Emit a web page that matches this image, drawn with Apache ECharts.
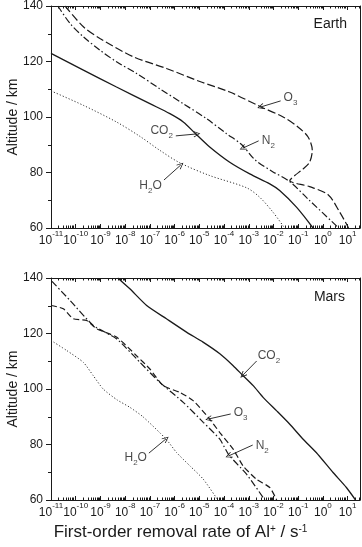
<!DOCTYPE html>
<html>
<head>
<meta charset="utf-8">
<script src="https://cdn.jsdelivr.net/npm/echarts@6/dist/echarts.min.js"></script>
<style>
  html, body { margin: 0; padding: 0; background: #fff; }
  #chart { width: 362px; height: 547px; }
</style>
</head>
<body>
<div id="chart"></div>
<script>
// x values are log10 of the removal rate (s^-1), y values are altitude (km)
const rateDecades = [-11, -10, -9, -8, -7, -6, -5, -4, -3, -2, -1, 0, 1];
const rateMin = -11, rateMax = 1.5;
const altMin = 60, altMax = 140;

// Earth
const earthCO2 = [[-11, 122.9], [-9.69, 116.9], [-8.35, 110.8], [-7.0, 104.8], [-6.19, 101.2], [-5.65, 98.2],
  [-5.11, 93.6], [-4.58, 89.2], [-3.77, 83.7], [-2.96, 79.5], [-2.15, 75.9], [-1.75, 73.5], [-1.07, 67.5], [-0.40, 60]];
const earthN2 = [[-10.72, 140], [-10.23, 133.7], [-9.69, 128.9], [-9.02, 124.1], [-8.35, 119.9], [-7.54, 115.7],
  [-6.60, 110.2], [-5.65, 104.8], [-4.71, 99.4], [-3.90, 94.0], [-3.28, 90.0], [-2.75, 84.6], [-2.05, 80.4],
  [-1.34, 76.7], [-0.54, 69.9], [0.64, 60]];
const earthO3 = [[-10.43, 140], [-9.69, 132.5], [-9.02, 128.3], [-7.67, 121.7], [-6.33, 117.5], [-4.98, 112.8],
  [-3.77, 109.0], [-2.52, 103.7], [-1.61, 100.0], [-1.01, 96.4], [-0.60, 92.8], [-0.43, 88.0], [-0.54, 83.7],
  [-0.80, 81.3], [-1.14, 78.9], [-1.34, 77.1], [-0.54, 74.9], [0.21, 72.0], [0.68, 65.7], [1.04, 60]];
const earthH2O = [[-11, 109.4], [-9.69, 104.2], [-8.35, 98.2], [-7.40, 93.0], [-6.60, 88.0], [-5.79, 83.5],
  [-4.58, 78.9], [-3.09, 74.5], [-2.56, 71.1], [-2.02, 65.7], [-1.55, 60]];

// Mars
const marsCO2 = [[-8.30, 140], [-7.81, 136.1], [-7.13, 130.1], [-6.33, 125.3], [-5.52, 120.5], [-4.85, 116.9],
  [-4.17, 112.7], [-3.63, 108.4], [-3.23, 104.8], [-2.82, 101.2], [-2.42, 97.0], [-1.88, 92.2], [-1.34, 87.3],
  [-0.80, 81.9], [-0.27, 77.1], [0.41, 69.9], [0.95, 64.5], [1.32, 60]];
const marsN2 = [[-10.96, 138.8], [-10.23, 131.9], [-9.29, 122.9], [-8.35, 118.1], [-7.40, 109.6], [-6.60, 102.4],
  [-5.65, 95.2], [-4.84, 88.0], [-4.17, 81.9], [-3.81, 76.3], [-3.09, 69.3], [-2.35, 60]];
const marsO3 = [[-11, 130.1], [-10.50, 128.9], [-10.10, 125.3], [-9.56, 124.7], [-9.15, 121.7], [-8.35, 118.7],
  [-7.54, 112.0], [-7.0, 107.2], [-6.46, 101.2], [-5.79, 98.8], [-5.25, 95.8], [-4.64, 89.8], [-4.17, 84.3],
  [-3.63, 78.3], [-3.23, 72.3], [-2.69, 67.5], [-2.15, 64.5], [-1.87, 60]];
const marsH2O = [[-11, 117.5], [-10.37, 113.9], [-9.69, 109.6], [-9.29, 104.8], [-8.89, 100.0], [-8.33, 96.1],
  [-7.81, 93.4], [-7.28, 90.0], [-6.35, 82.0], [-5.92, 77.1], [-5.38, 72.3], [-4.84, 67.5], [-4.25, 60]];

// species labels and their arrows, in data coordinates
const earthNotes = [
  { text: 'O{sub|3}', at: [-1.59, 106.8], align: 'left', from: [-1.71, 105.8], to: [-2.52, 103.6] },
  { text: 'CO{sub|2}', at: [-6.07, 95.0], align: 'right', from: [-5.95, 93.2], to: [-5.10, 93.9] },
  { text: 'N{sub|2}', at: [-2.47, 91.5], align: 'left', from: [-2.60, 91.4], to: [-3.24, 88.8] },
  { text: 'H{sub|2}O', at: [-6.52, 75.2], align: 'right', from: [-6.43, 77.3], to: [-5.75, 82.7] }
];
const marsNotes = [
  { text: 'CO{sub|2}', at: [-2.64, 111.9], align: 'left', from: [-2.68, 110.1], to: [-3.24, 105.0] },
  { text: 'O{sub|3}', at: [-3.61, 91.4], align: 'left', from: [-3.73, 91.0], to: [-4.62, 89.2] },
  { text: 'N{sub|2}', at: [-2.72, 79.5], align: 'left', from: [-2.84, 79.8], to: [-3.81, 75.9] },
  { text: 'H{sub|2}O', at: [-7.12, 75.1], align: 'right', from: [-7.04, 76.9], to: [-6.35, 82.0] }
];

const ink = '#1a1a1a';
const font = 'Liberation Sans';

// log-spaced minor tick positions (2..9 x 10^n)
const minorRatePos = [];
rateDecades.forEach(function (d) {
  for (let k = 2; k <= 9; k++) {
    const v = d + Math.log10(k);
    if (v < rateMax) minorRatePos.push([v, altMin]);
  }
});

const supRich = {
  b: { fontSize: 12, lineHeight: 17, verticalAlign: 'bottom', color: ink, fontFamily: font },
  s: { fontSize: 8, lineHeight: 8, verticalAlign: 'top', color: ink, fontFamily: font }
};
const subRich = {
  sub: { fontSize: 8, lineHeight: 8, verticalAlign: 'bottom', color: ink, fontFamily: font, padding: [0, 0, -3, 0] }
};

function bottomAxis(gi, named) {
  return {
    type: 'value', gridIndex: gi, min: rateMin, max: rateMax, interval: 1,
    axisLine: { onZero: false, lineStyle: { color: ink, width: 1 } },
    axisTick: { inside: true, length: 4, lineStyle: { color: ink } },
    splitLine: { show: false },
    axisLabel: {
      margin: 2,
      formatter: function (v) { return rateDecades.indexOf(v) >= 0 ? '{b|10}{s|' + v + '}' : ''; },
      rich: supRich
    },
    name: named ? 'First-order removal rate of Al{s|+} / s{s|-1}' : '',
    nameLocation: 'middle', nameGap: 24, nameMoveOverlap: false,
    nameTextStyle: {
      fontSize: 17, color: ink, fontFamily: font, padding: [0, 50, 0, 0],
      rich: {
        s: { fontSize: 10, lineHeight: 10, verticalAlign: 'top', color: ink, fontFamily: font }
      }
    }
  };
}
function topAxis(gi) {
  return {
    type: 'value', gridIndex: gi, position: 'top', min: rateMin, max: rateMax, interval: 1,
    axisLine: { onZero: false, lineStyle: { color: ink, width: 1 } },
    axisTick: { inside: true, length: 4, lineStyle: { color: ink } },
    axisLabel: { show: false }, splitLine: { show: false }
  };
}
function leftAxis(gi) {
  return {
    type: 'value', gridIndex: gi, min: altMin, max: altMax, interval: 20,
    axisLine: { show: true, onZero: false, lineStyle: { color: ink, width: 1 } },
    axisTick: { show: true, length: 5, lineStyle: { color: ink } },
    minorTick: { show: true, splitNumber: 2, length: 3, lineStyle: { color: ink } },
    splitLine: { show: false },
    axisLabel: { fontSize: 12, color: ink, margin: 8, fontFamily: font },
    name: 'Altitude / km', nameLocation: 'middle', nameGap: 31, nameMoveOverlap: false,
    nameTextStyle: { fontSize: 14, color: ink, fontFamily: font }
  };
}
function rightAxis(gi) {
  return {
    type: 'value', gridIndex: gi, position: 'right', min: altMin, max: altMax,
    axisLine: { show: true, onZero: false, lineStyle: { color: ink, width: 1 } },
    axisTick: { show: false }, axisLabel: { show: false }, splitLine: { show: false }
  };
}

function curve(data, xi, yi, dash, width, color, smooth) {
  return {
    type: 'line', xAxisIndex: xi, yAxisIndex: yi, data: data,
    showSymbol: false, symbol: 'none', smooth: smooth, silent: true,
    lineStyle: { color: color || ink, width: width, type: dash }
  };
}

function minorTicks(xi, yi) {
  return {
    type: 'custom', xAxisIndex: xi, yAxisIndex: yi, silent: true, data: minorRatePos,
    renderItem: function (params, api) {
      const v = api.value(0);
      const b = api.coord([v, altMin]);
      const t = api.coord([v, altMax]);
      const x = Math.round(b[0]) + 0.5;
      return {
        type: 'group',
        children: [
          { type: 'line', shape: { x1: x, y1: b[1], x2: x, y2: b[1] - 2.5 }, style: { stroke: ink, lineWidth: 1 } },
          { type: 'line', shape: { x1: x, y1: t[1], x2: x, y2: t[1] + 2.5 }, style: { stroke: ink, lineWidth: 1 } }
        ]
      };
    }
  };
}

const chevron = 'path://M5,0 L10,10 L9,11 L5,2.5 L1,11 L0,10 Z';

function notes(list, xi, yi) {
  return {
    type: 'scatter', xAxisIndex: xi, yAxisIndex: yi, symbolSize: 0, silent: true,
    data: list.map(function (n) {
      return {
        value: n.at,
        label: {
          show: true, position: 'inside', formatter: n.text, align: n.align,
          fontSize: 12, color: ink, fontFamily: font, rich: subRich
        }
      };
    }),
    markLine: {
      silent: true, animation: false,
      symbol: ['none', chevron], symbolSize: [6, 7],
      lineStyle: { type: 'solid', color: ink, width: 0.9 },
      label: { show: false },
      data: list.map(function (n) { return [{ coord: n.from }, { coord: n.to }]; })
    }
  };
}

const chart = echarts.init(document.getElementById('chart'), null, { renderer: 'canvas' });
chart.setOption({
  animation: false,
  backgroundColor: '#fff',
  textStyle: { fontFamily: font, color: ink },
  title: [
    { text: 'Earth', right: 15, top: 17, padding: 0, textStyle: { fontSize: 14, fontWeight: 'normal', color: ink, fontFamily: font } },
    { text: 'Mars', right: 17, top: 290, padding: 0, textStyle: { fontSize: 14, fontWeight: 'normal', color: ink, fontFamily: font } }
  ],
  grid: [
    { left: 51, top: 6, width: 309, height: 222, containLabel: false, outerBoundsMode: 'none' },
    { left: 51, top: 278, width: 309, height: 222, containLabel: false, outerBoundsMode: 'none' }
  ],
  xAxis: [bottomAxis(0, false), topAxis(0), bottomAxis(1, true), topAxis(1)],
  yAxis: [leftAxis(0), rightAxis(0), leftAxis(1), rightAxis(1)],
  series: [
    curve(earthCO2, 0, 0, 'solid', 1.3, ink, 0.3),
    curve(earthN2, 0, 0, [7, 2.5, 1.5, 2.5], 1.2, ink, 0.3),
    curve(earthO3, 0, 0, [8, 3], 1.2, ink, 0.3),
    curve(earthH2O, 0, 0, [1.2, 2], 1, '#333', 0.3),
    curve(marsCO2, 2, 2, 'solid', 1.3, ink, 0.2),
    curve(marsN2, 2, 2, [7, 2.5, 1.5, 2.5], 1.2, ink, 0.2),
    curve(marsO3, 2, 2, [6, 3], 1.2, ink, 0.2),
    curve(marsH2O, 2, 2, [1.2, 2], 1, '#333', 0.2),
    minorTicks(0, 0),
    minorTicks(2, 2),
    notes(earthNotes, 0, 0),
    notes(marsNotes, 2, 2)
  ]
});
</script>
</body>
</html>
